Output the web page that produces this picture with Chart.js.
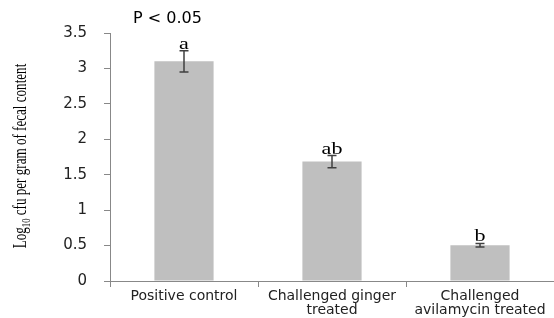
<!DOCTYPE html>
<html lang="en">
<head>
  <meta charset="UTF-8" />
  <title>Log10 cfu per gram of fecal content</title>
  <script src="https://cdn.jsdelivr.net/npm/chart.js"></script>
  <style>
    body {
      margin: 0;
      background-color: #fff;
    }

    .chart-box {
      width: 554px;
      height: 318px;
    }
  </style>
</head>
<body>
  <div class="chart-box">
    <canvas id="cfuChart"></canvas>
  </div>

  <script>
    const categories = [["Positive control"], ["Challenged ginger", "treated"], ["Challenged", "avilamycin treated"]];
    const means = [3.1, 1.685, 0.505];
    const errors = [0.15, 0.085, 0.025];
    const letters = ["a", "ab", "b"];
    const yTicks = [0, 0.5, 1, 1.5, 2, 2.5, 3, 3.5];

    // barras de erro + letras de significância
    const errorBars = {
      id: "errorBars",
      afterDatasetsDraw(chart) {
        const ctx = chart.ctx;
        const x = chart.scales.x;
        const y = chart.scales.y;
        ctx.save();
        means.forEach((m, i) => {
          const cx = x.getPixelForValue(i);
          const top = y.getPixelForValue(m + errors[i]);
          const bot = y.getPixelForValue(m - errors[i]);
          ctx.strokeStyle = "#404040";
          ctx.lineWidth = 1.5;
          ctx.beginPath();
          ctx.moveTo(cx, top); ctx.lineTo(cx, bot);
          ctx.moveTo(cx - 4.5, top); ctx.lineTo(cx + 4.5, top);
          ctx.moveTo(cx - 4.5, bot); ctx.lineTo(cx + 4.5, bot);
          ctx.stroke();

          ctx.save();
          ctx.translate(cx, top - 2);
          ctx.scale(1.3, 1);
          ctx.fillStyle = "#000";
          ctx.font = "17px 'Liberation Serif'";
          ctx.textAlign = "center";
          ctx.textBaseline = "alphabetic";
          ctx.fillText(letters[i], 0, 0);
          ctx.restore();
        });
        ctx.restore();
      }
    };

    // título do eixo y com subscrito e "P < 0.05"
    const extraText = {
      id: "extraText",
      afterDraw(chart) {
        const ctx = chart.ctx;
        const area = chart.chartArea;
        ctx.save();
        ctx.fillStyle = "#000";
        ctx.font = "16px 'DejaVu Sans'";
        ctx.textAlign = "left";
        ctx.textBaseline = "middle";
        ctx.fillText("P < 0.05", area.left + 23, 19);
        ctx.restore();

        ctx.save();
        ctx.translate(26, (area.top + area.bottom) / 2 - 1);
        ctx.rotate(-Math.PI / 2);
        ctx.scale(0.727, 1);
        const big = "18px 'Liberation Serif'";
        const small = "12px 'Liberation Serif'";
        const parts = [["Log", big, 0], ["10", small, 4], [" cfu per gram of fecal content", big, 0]];
        let total = 0;
        parts.forEach(p => { ctx.font = p[1]; total += ctx.measureText(p[0]).width; });
        let px = -total / 2;
        ctx.fillStyle = "#000";
        ctx.textBaseline = "alphabetic";
        ctx.textAlign = "left";
        parts.forEach(p => {
          ctx.font = p[1];
          ctx.fillText(p[0], px, p[2]);
          px += ctx.measureText(p[0]).width;
        });
        ctx.restore();
      }
    };

    new Chart(document.getElementById("cfuChart"), {
      type: "bar",
      data: {
        labels: categories,
        datasets: [{
          data: means,
          backgroundColor: "#bfbfbf",
          categoryPercentage: 1,
          barPercentage: 0.4
        }]
      },
      options: {
        responsive: true,
        maintainAspectRatio: false,
        animation: false,
        layout: { padding: { top: 33, right: 0, left: 0, bottom: 0 } },
        plugins: {
          legend: { display: false },
          tooltip: { enabled: false }
        },
        scales: {
          x: {
            grid: { offset: true, drawOnChartArea: false, tickLength: 6, color: "#888" },
            border: { color: "#888" },
            ticks: {
              color: "#222",
              font: { family: "DejaVu Sans", size: 14, lineHeight: 0.95 },
              maxRotation: 0,
              padding: 3
            },
            afterFit(scale) { scale.height = 37; }
          },
          y: {
            min: 0,
            max: 3.5,
            grid: { drawOnChartArea: false, tickLength: 6, color: "#888" },
            border: { color: "#888" },
            afterBuildTicks(scale) { scale.ticks = yTicks.map(v => ({ value: v })); },
            ticks: {
              color: "#222",
              font: { family: "DejaVu Sans", size: 15 },
              padding: 17,
              callback: v => String(v)
            },
            afterFit(scale) { scale.width = 110; }
          }
        }
      },
      plugins: [errorBars, extraText]
    });
  </script>
</body>
</html>
